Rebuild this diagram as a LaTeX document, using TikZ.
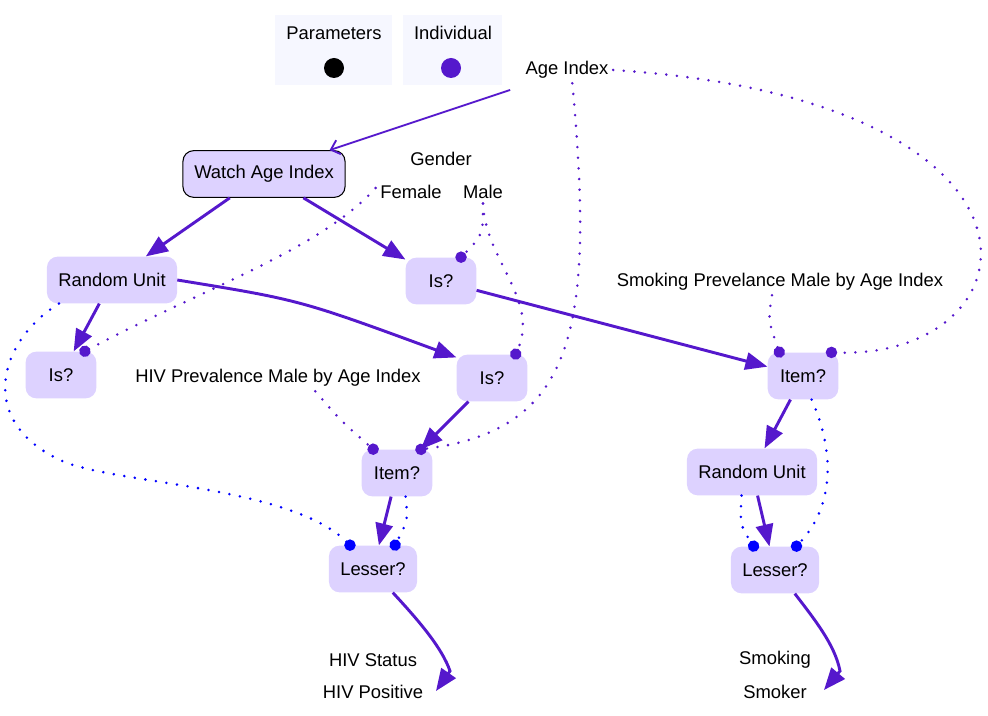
\documentclass[tikz,border=0pt]{standalone}
\usepackage{fontspec}
\setmainfont{Liberation Sans}
\usetikzlibrary{arrows.meta}

\definecolor{flowpurple}{RGB}{85,24,204}
\definecolor{opfill}{RGB}{221,210,255}
\definecolor{legendbg}{RGB}{246,247,255}
\definecolor{portblue}{RGB}{0,0,255}

\begin{document}
\begin{tikzpicture}[
    x=0.75pt, y=-0.75pt,
    font=\fontsize{13.8}{16}\selectfont,
    op node/.style={rectangle, rounded corners=8pt, fill=opfill, minimum height=35pt, minimum width=53pt, inner xsep=8.5pt},
    legend box/.style={rectangle, fill=legendbg, minimum width=#1, minimum height=52.5pt},
    legend dot/.style={circle, fill=#1, minimum size=15pt, inner sep=0pt},
    flow edge/.style={line width=2.2pt, draw=flowpurple, -{Triangle[length=16.5pt,width=13pt]}},
    watch edge/.style={line width=1.4pt, draw=flowpurple, -{Straight Barb[length=6pt,width=11pt]}},
    dot link/.style={line width=2.1pt, draw=flowpurple, line cap=round, dash pattern=on 0pt off 8pt, -{Circle[length=8.5pt]}, shorten >=-4pt},
    port link/.style={dot link, draw=portblue}
]
\useasboundingbox (0,0) rectangle (988,716);

% legende
\node[legend box=87.75pt] (paramBox) at (333.5,50) {};
\node[legend box=74.25pt] (indivBox) at (452.5,50) {};
\node (paramLbl) at (334,33) {Parameters};
\node (indivLbl) at (453,33) {Individual};
\node[legend dot=black] (paramDot) at (334,68) {};
\node[legend dot=flowpurple] (indivDot) at (451,68) {};

% eingaenge und ausgaenge
\node (ageIdx) at (567,70) {Age Index};
\node (gender) at (441,159) {Gender};
\node (female) at (411,192) {Female};
\node (male) at (483,192) {Male};
\node (hivPrev) at (278,378) {HIV Prevalence Male by Age Index};
\node (smokPrev) at (780,282) {Smoking Prevelance Male by Age Index};
\node (hivStatus) at (373,660) {HIV Status};
\node (hivPos) at (373,692) {HIV Positive};
\node (smoking) at (775,660) {Smoking};
\node (smoker) at (775,692) {Smoker};
\coordinate (hivBase) at (450,671);
\coordinate (hivEnd) at (436,691);
\coordinate (smokBase) at (840,671);
\coordinate (smokEnd) at (824,690);

% operationen
\node[op node, draw=black, line width=0.8pt] (watch) at (264,174) {Watch Age Index};
\node[op node] (randL) at (112,280) {Random Unit};
\node[op node] (isTop) at (441,281) {Is?};
\node[op node] (isLeft) at (61,375) {Is?};
\node[op node] (isMid) at (492,378) {Is?};
\node[op node] (itemMid) at (397,473) {Item?};
\node[op node] (lessL) at (373,569) {Lesser?};
\node[op node] (itemR) at (803,376) {Item?};
\node[op node] (randR) at (752,472) {Random Unit};
\node[op node] (lessR) at (775,570) {Lesser?};

% ablauf
\draw[watch edge] ([xshift=-8pt,yshift=-5pt]ageIdx.south west) -- (watch.20);
\draw[flow edge] (watch) -- (randL);
\draw[flow edge] (watch) -- (isTop);
\draw[flow edge] (randL) -- (isLeft);
\draw[flow edge] (randL.east) .. controls (300,300) .. (isMid.150);
\draw[flow edge] (isTop) -- (itemR);
\draw[flow edge] (isMid) -- (itemMid);
\draw[flow edge] (itemMid) -- (lessL);
\draw[flow edge] (itemR) -- (randR);
\draw[flow edge] (randR) -- (lessR);
\draw[flow edge] (lessL.310) .. controls (420,622) and (442,648) .. (hivBase) -- (hivEnd);
\draw[flow edge] (lessR.310) .. controls (815,620) and (835,645) .. (smokBase) -- (smokEnd);

% daten
\draw[dot link] ([xshift=4pt]ageIdx.south) .. controls (595,330) and (575,430) .. (itemMid.45);
\draw[dot link] (ageIdx.east) .. controls (1080,100) and (1040,360) .. (itemR.40);
\draw[dot link] ([yshift=3pt]female.west) .. controls (320,250) and (200,290) .. (isLeft.45);
\draw[dot link] (male.south) .. controls (483,235) .. (isTop.50);
\draw[dot link] (male.south) .. controls (485,260) and (540,300) .. (isMid.45);
\draw[dot link] ([xshift=-6pt]smokPrev.south) .. controls (768,320) .. (itemR.135);
\draw[dot link] ([xshift=28pt]hivPrev.south) .. controls (340,420) .. (itemMid.135);

% zufall
\draw[port link] (randL.204) .. controls (0,340) and (-25,420) .. (60,460)
    .. controls (110,484) and (290,485) .. (lessL.134);
\draw[port link] (itemMid.290) .. controls (408,520) .. (lessL.47);
\draw[port link] (itemR.290) .. controls (830,440) and (840,500) .. (lessR.48);
\draw[port link] (randR.246) .. controls (740,525) .. (lessR.132);

\end{tikzpicture}
\end{document}
